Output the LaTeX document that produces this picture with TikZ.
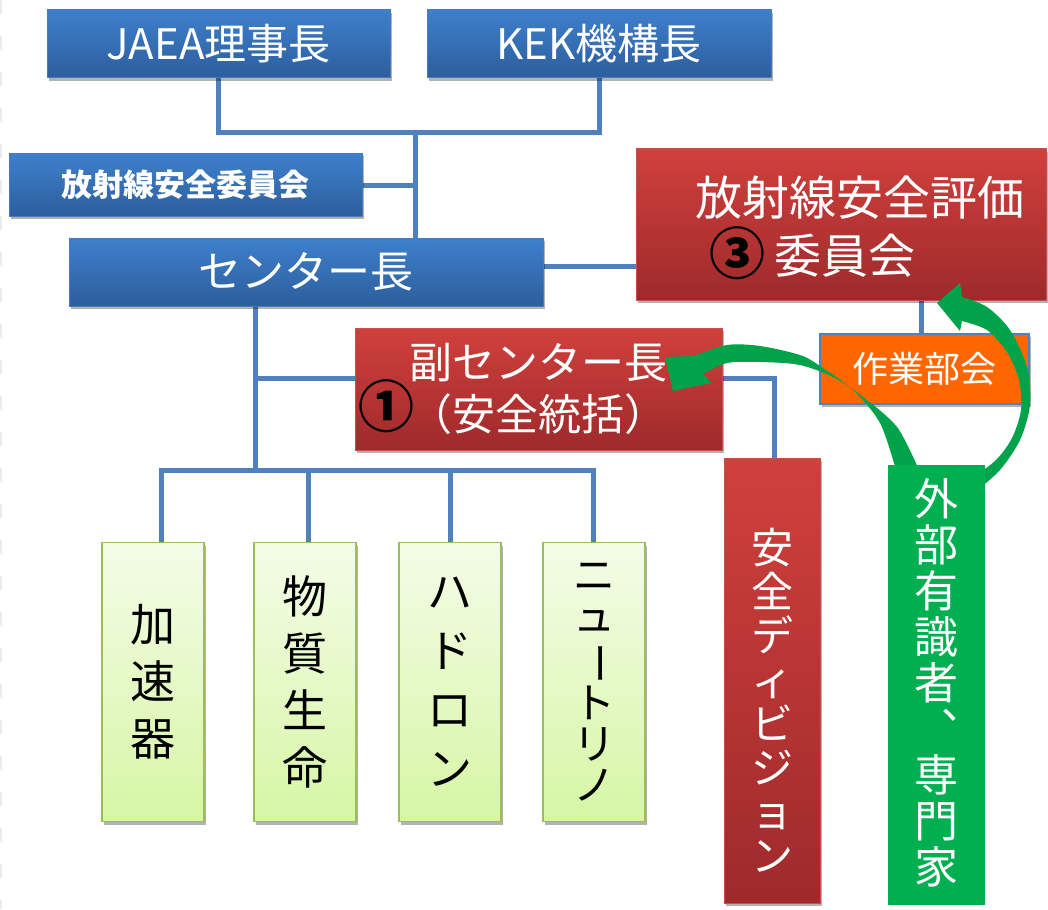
\documentclass[tikz,border=0pt]{standalone}
\usepackage{fontspec}
\setmainfont{Noto Sans CJK JP}
\usepackage{graphicx}
\usetikzlibrary{shadows,calc}
\definecolor{bluetop}{RGB}{62,128,204}
\definecolor{bluebot}{RGB}{44,94,156}
\definecolor{blueedge}{RGB}{72,122,190}
\definecolor{connblue}{RGB}{79,129,189}
\definecolor{redtop}{RGB}{208,64,60}
\definecolor{redbot}{RGB}{158,42,43}
\definecolor{rededge}{RGB}{196,80,77}
\definecolor{lgtop}{RGB}{244,252,232}
\definecolor{lgbot}{RGB}{214,246,164}
\definecolor{lgedge}{RGB}{155,190,90}
\definecolor{orangefill}{RGB}{255,102,0}
\definecolor{xgreen}{RGB}{0,176,80}
\definecolor{arcgreen}{RGB}{0,162,74}
\newcommand{\vbar}{\rotatebox[origin=c]{-90}{ー}}
\begin{document}
\begin{tikzpicture}[x=1pt,y=-1pt,
  conn/.style={draw=connblue,line width=5pt},
  shad/.style={drop shadow={shadow xshift=2pt,shadow yshift=-3pt,opacity=0.3,fill=black}},
  bluebox/.style={rectangle,inner sep=0pt,top color=bluetop,bottom color=bluebot,draw=blueedge,line width=1pt,text=white,shad},
  redbox/.style={rectangle,inner sep=0pt,top color=redtop,bottom color=redbot,draw=rededge,line width=1pt,text=white,shad},
  lgbox/.style={rectangle,inner sep=0pt,top color=lgtop,bottom color=lgbot,draw=lgedge,line width=1.5pt,text=black,shad,align=center},
  wtext/.style={inner sep=0pt,text=white},
  circnum/.style={inner sep=0pt,text=black,font=\fontsize{56}{56}\selectfont\bfseries}
]
\fill[white] (0,0) rectangle (1048,909);
\useasboundingbox (0,0) rectangle (1048,909);
\draw[black!8,line width=1.5pt,dash pattern=on 14pt off 22pt] (1,0) -- (1,909);

% junction coordinates
\coordinate (j1) at (415,133);
\coordinate (j2) at (255,470);
\coordinate (j3) at (255,378);

% connectors
\path (218.5,44) node[minimum width=343pt,minimum height=68pt,inner sep=0pt] (jaeaP) {}
      (599,44) node[minimum width=344pt,minimum height=68pt,inner sep=0pt] (kekP) {};
\draw[conn] (jaeaP.south) |- (j1) -| (kekP.south);
\draw[conn] (j1) -- (415,240);
\draw[conn] (362,186) -- (j1 |- 0,186);
\draw[conn] (543,266) -- (636,266);
\draw[conn] (921,300) -- (921,334);
\draw[conn] (255,306) -- (j2);
\draw[conn] (j3) -- (356,378);
\draw[conn] (161,543) |- (j2) -| (593,543);
\draw[conn] (308,470) -- (308,543);
\draw[conn] (450,470) -- (450,543);
\draw[conn] (720,378) -| (774,460);

% top boxes
\node[bluebox,minimum width=343pt,minimum height=68pt,font=\fontsize{42}{42}\selectfont] (jaea) at (218.5,44) {JAEA理事長};
\node[bluebox,minimum width=344pt,minimum height=68pt,font=\fontsize{42}{42}\selectfont] (kek) at (599,44) {KEK機構長};
\node[bluebox,minimum width=353pt,minimum height=63pt,font=\fontsize{31}{31}\selectfont\bfseries] (iinkai) at (185.5,185) {放射線安全委員会};
\node[bluebox,minimum width=474pt,minimum height=68pt,font=\fontsize{43}{43}\selectfont] (center) at (306,272) {センター長};
\node[redbox,minimum width=410pt,minimum height=151pt] (hyoka) at (841,224.5) {};
\node[wtext,font=\fontsize{47}{47}\selectfont] (hyokaA) at (860,198) {放射線安全評価};
\node[wtext,font=\fontsize{47}{47}\selectfont] (hyokaB) at (845,256) {委員会};
\node[circnum] (n3) at (737,253) {③};
\node[rectangle,inner sep=0pt,fill=orangefill,draw=connblue,line width=2pt,text=white,shad,
      minimum width=209pt,minimum height=70pt,font=\fontsize{36}{36}\selectfont] (sagyo) at (924.5,369) {作業部会};
\node[redbox,minimum width=367pt,minimum height=122pt,align=center,
      font=\fontsize{43}{52}\selectfont] (fuku) at (538.5,389) {副センター長\\（安全統括）};
\node[circnum] (n1) at (386,406) {①};

% bottom boxes
\node[lgbox,minimum width=102pt,minimum height=279pt,font=\fontsize{45}{57}\selectfont] (kasoku) at (153,682) {加\\速\\器};
\node[lgbox,minimum width=102pt,minimum height=279pt,font=\fontsize{45}{57}\selectfont] (busshitsu) at (305,682) {物\\質\\生\\命};
\node[lgbox,minimum width=102pt,minimum height=279pt,font=\fontsize{45}{59}\selectfont] (hadron) at (450,682) {ハ\\ド\\ロ\\ン};
\node[lgbox,minimum width=102pt,minimum height=279pt,font=\fontsize{42}{41}\selectfont] (neutrino) at (594,682) {ニ\\ュ\\\vbar\\ト\\リ\\ノ};
\node[redbox,minimum width=96pt,minimum height=445pt] (anzen) at (772,680.5) {};
\node[wtext,align=center,font=\fontsize{42}{44}\selectfont] (anzenT) at (772,700) {安\\全\\デ\\ィ\\ビ\\ジ\\ョ\\ン};

% green curved arrows
\fill[arcgreen] plot[smooth] coordinates {(896,470) (880,423) (853,390) (820,366) (800,355) (760,346) (727,345) (694,356)}
   -- (665,357) -- (673,391) -- (711,383)
   -- plot[smooth] coordinates {(703,374) (727,363) (760,362) (800,365) (835,378) (863,397) (897,427) (919,470)} -- cycle;
\fill[arcgreen] plot[smooth] coordinates {(975,492) (1000,470) (1020,440) (1030,405) (1027,367) (1010,330) (987,307) (962,297)}
   -- (960,283) -- (937,303) -- (960,331)
   -- plot[smooth] coordinates {(962,321) (987,330) (1007,352) (1019,380) (1021,410) (1012,438) (996,460) (970,480)} -- cycle;

% external experts
\node[rectangle,inner sep=0pt,fill=xgreen,minimum width=97pt,minimum height=440pt] (gaibu) at (936.5,685) {};
\node[wtext,align=center,font=\fontsize{44}{46}\selectfont] (gaibuT) at (936,683) {外\\部\\有\\識\\者\\︑\\専\\門\\家};
\end{tikzpicture}
\end{document}
